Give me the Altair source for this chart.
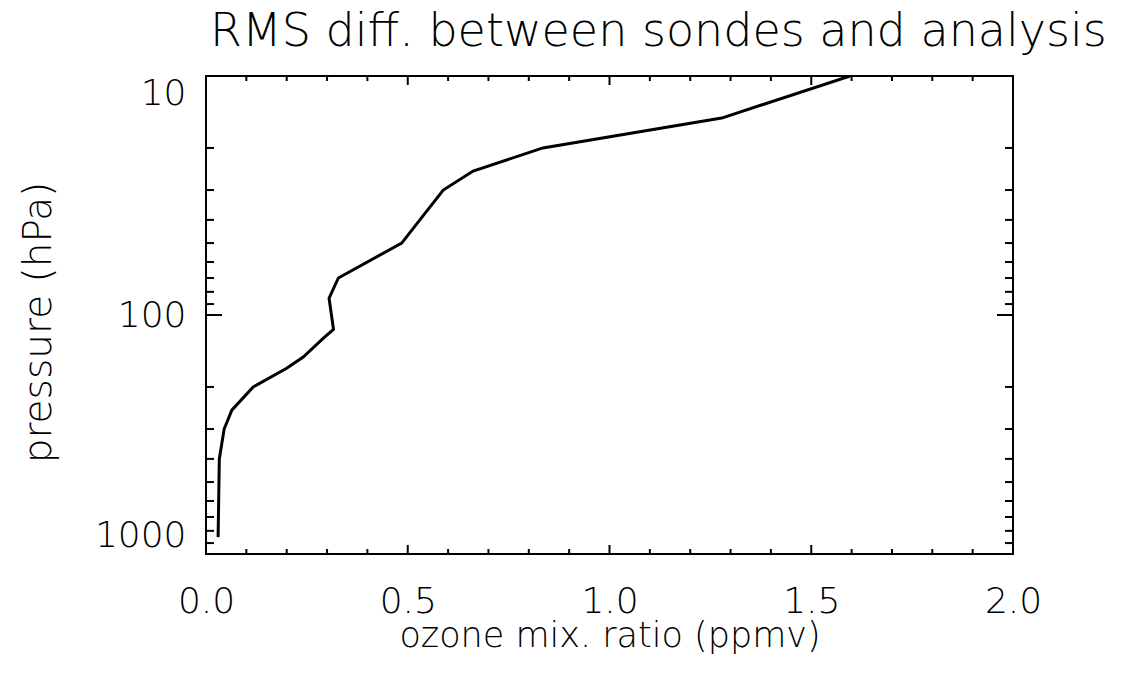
import altair as alt
import pandas as pd

# Profile (pressure in hPa, RMS ozone diff in ppmv)
pressure = [850, 400, 300, 250, 200, 167, 150, 125, 115, 85, 70, 50, 40, 30, 25, 20, 15, 10]
rms = [0.030, 0.033, 0.045, 0.064, 0.117, 0.200, 0.241, 0.291, 0.316, 0.305, 0.328,
       0.485, 0.530, 0.588, 0.662, 0.835, 1.278, 1.596]

x_major = [0.0, 0.5, 1.0, 1.5, 2.0]
x_minor = [0.1, 0.2, 0.3, 0.4, 0.6, 0.7, 0.8, 0.9, 1.1, 1.2, 1.3, 1.4, 1.6, 1.7, 1.8, 1.9]
y_major = [10, 100, 1000]
y_minor = [20, 30, 40, 50, 60, 70, 80, 90, 200, 300, 400, 500, 600, 700, 800, 900]

W, H = 807, 478
FONT = "DejaVu Sans"

df = pd.DataFrame({"p": pressure, "v": rms, "order": list(range(len(rms)))})
xmaj = pd.DataFrame({"v": x_major})
xmin = pd.DataFrame({"v": x_minor})
ymaj = pd.DataFrame({"p": y_major})
ymin = pd.DataFrame({"p": y_minor})

xscale = alt.Scale(domain=[0, 2], nice=False, zero=False)
yscale = alt.Scale(type="log", domain=[10, 1000], reverse=True, nice=False)

xaxis = alt.Axis(values=x_major, format=".1f", ticks=False, domain=False, grid=False,
                 labelFontSize=36, labelFont=FONT, labelFontWeight=200, labelColor="black",
                 labelPadding=30, labelFlush=False,
                 title="ozone mix. ratio (ppmv)", titleFontSize=35, titleFont=FONT,
                 titleFontWeight=200, titleColor="black",
                 titleBaseline="alphabetic", titleY=92)
yaxis = alt.Axis(values=y_major, format="d", ticks=False, domain=False, grid=False,
                 labelFontSize=36, labelFont=FONT, labelFontWeight=200, labelColor="black",
                 labelPadding=20, labelFlush=True,
                 title="pressure (hPa)", titleFontSize=39, titleFont=FONT,
                 titleFontWeight=200, titleColor="black", titleAngle=270,
                 titleBaseline="alphabetic", titleX=-156, titleY=246)

X = alt.X("v:Q", scale=xscale, axis=xaxis)
Y = alt.Y("p:Q", scale=yscale, axis=yaxis)

line = alt.Chart(df).mark_line(color="black", strokeWidth=3, clip=True).encode(
    x=X, y=Y, order="order:Q",
)

def xticks(d, length):
    bottom = alt.Chart(d).mark_rule(color="black", strokeWidth=2).encode(
        x=X, y=alt.value(H), y2=alt.value(H - length))
    top = alt.Chart(d).mark_rule(color="black", strokeWidth=2).encode(
        x=X, y=alt.value(0), y2=alt.value(length))
    return [bottom, top]

def yticks(d, length):
    left = alt.Chart(d).mark_rule(color="black", strokeWidth=2).encode(
        y=Y, x=alt.value(0), x2=alt.value(length))
    right = alt.Chart(d).mark_rule(color="black", strokeWidth=2).encode(
        y=Y, x=alt.value(W), x2=alt.value(W - length))
    return [left, right]

layers = [line] + xticks(xmaj, 9) + xticks(xmin, 5) + yticks(ymaj, 16) + yticks(ymin, 8)

chart = alt.layer(*layers).properties(
    width=W, height=H,
    title=alt.TitleParams("RMS diff. between sondes and analysis", anchor="start",
                          fontSize=46, font=FONT, fontWeight=200, color="black",
                          baseline="alphabetic", offset=28, dx=4, dy=45, frame="group"),
    autosize=alt.AutoSizeParams(type="none"),
    padding={"left": 206, "top": 76, "right": 114, "bottom": 121},
).configure(background="white").configure_view(stroke="black", strokeWidth=2)

chart.save("out.html", embed_options={"renderer": "svg", "actions": False})
